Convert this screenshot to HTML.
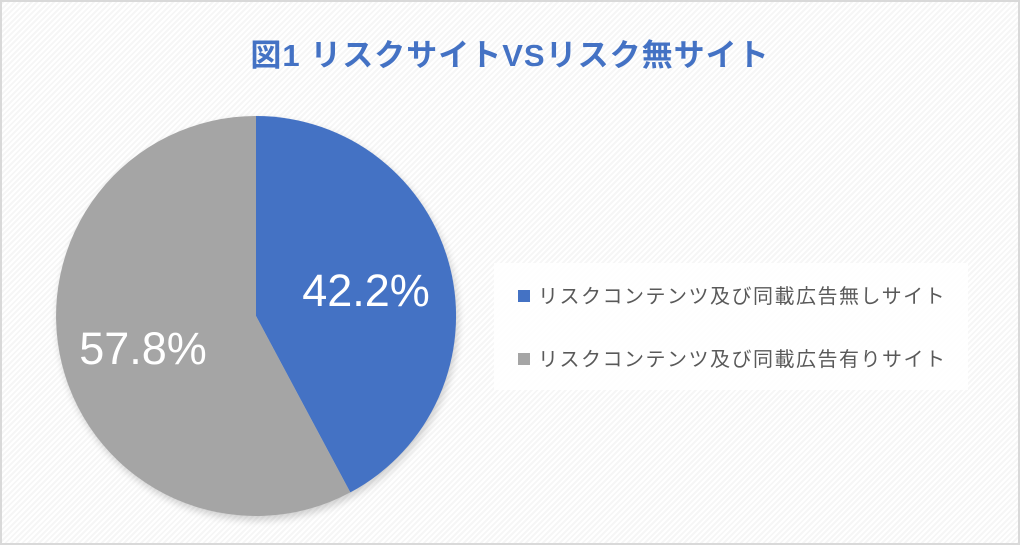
<!DOCTYPE html>
<html><head><meta charset="utf-8"><style>
html,body{margin:0;padding:0}
body{width:1020px;height:545px;overflow:hidden;position:relative;font-family:"Liberation Sans","Noto Sans CJK JP",sans-serif;}
.frame{position:absolute;left:0;top:0;width:1016px;height:541px;border:2px solid #d9d9d9;
background:repeating-linear-gradient(135deg,#f6f6f6 0px,#f6f6f6 2px,#ffffff 2px,#ffffff 4px);}
.title{position:absolute;left:0;width:1020px;top:30px;text-align:center;font-size:31px;font-weight:bold;color:#4472c4;letter-spacing:1px}
.legend{position:absolute;left:494px;top:263px;width:474px;height:127px;background:rgba(255,255,255,0.85);}
.li{position:absolute;left:24px;font-size:20px;color:#595959;letter-spacing:1.5px;white-space:nowrap}
.sq{display:inline-block;width:12px;height:12px;margin-right:8px;vertical-align:1px}
</style></head><body>
<div class="frame"></div>
<div class="title">図1 リスクサイトVSリスク無サイト</div>
<svg style="position:absolute;left:0;top:0" width="1020" height="545">
<defs><filter id="s" x="-20%" y="-20%" width="140%" height="140%"><feGaussianBlur stdDeviation="4"/></filter></defs>
<circle cx="258" cy="320" r="200" fill="#000" opacity="0.18" filter="url(#s)"/>
<path d="M256,316 L256,116 A200,200 0 0 1 350.3,492.4 Z" fill="#4472c4"/>
<path d="M256,316 L350.3,492.4 A200,200 0 1 1 256,116 Z" fill="#a5a5a5"/>
<text x="366" y="306" font-size="45" fill="#fff" text-anchor="middle" font-family="Liberation Sans, sans-serif">42.2%</text>
<text x="143" y="364" font-size="45" fill="#fff" text-anchor="middle" font-family="Liberation Sans, sans-serif">57.8%</text>
</svg>
<div class="legend">
<div class="li" style="top:17px"><span class="sq" style="background:#4472c4"></span>リスクコンテンツ及び同載広告無しサイト</div>
<div class="li" style="top:80px"><span class="sq" style="background:#a5a5a5"></span>リスクコンテンツ及び同載広告有りサイト</div>
</div>
</body></html>
